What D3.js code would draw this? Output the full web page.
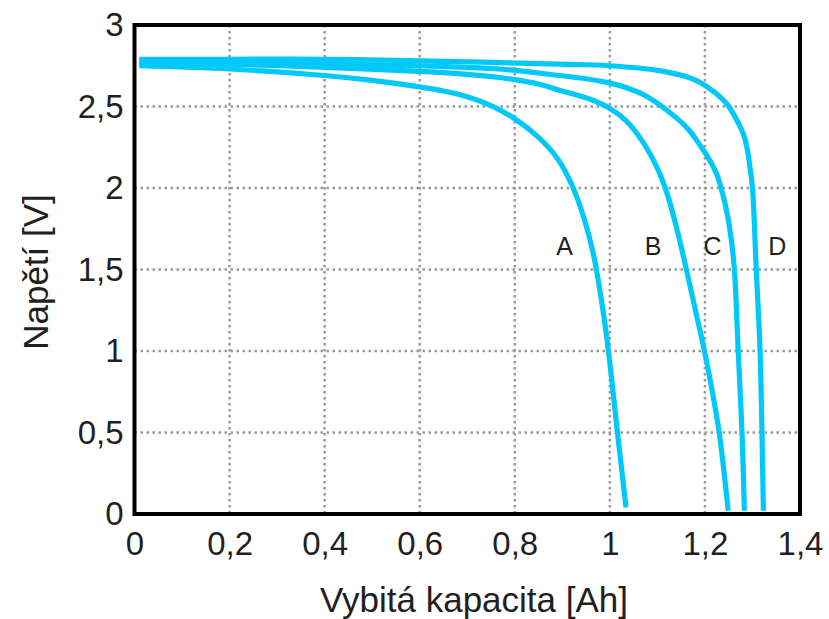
<!DOCTYPE html>
<html>
<head>
<meta charset="utf-8">
<script src="https://cdn.jsdelivr.net/npm/d3@7/dist/d3.min.js"></script>
<style>
  html, body { margin: 0; padding: 0; background: #fff; }
  svg { display: block; }
  text { font-family: "Liberation Sans", Arial, sans-serif; fill: #231f20; }
</style>
</head>
<body>
<svg id="chart" width="829" height="619"></svg>
<script>
// ---- data ----
const xTicks = [0, 0.2, 0.4, 0.6, 0.8, 1, 1.2, 1.4];
const yTicks = [0, 0.5, 1, 1.5, 2, 2.5, 3];
const seriesNames = ["A", "B", "C", "D"];

const curveA_x = [0.01, 0.2, 0.4, 0.5, 0.6, 0.65, 0.7, 0.75, 0.8, 0.85, 0.89, 0.92, 0.945, 0.965, 0.985, 0.997, 1.016, 1.034];
const curveA_y = [2.75, 2.73, 2.69, 2.66, 2.62, 2.595, 2.56, 2.505, 2.425, 2.31, 2.18, 2.02, 1.82, 1.60, 1.26, 1.00, 0.50, 0.04];

const curveB_x = [0.01, 0.2, 0.4, 0.6, 0.7, 0.768, 0.85, 0.894, 0.963, 0.999, 1.035, 1.07, 1.10, 1.12, 1.14, 1.161, 1.18, 1.199, 1.215, 1.230, 1.249];
const curveB_y = [2.77, 2.76, 2.74, 2.715, 2.697, 2.678, 2.638, 2.60, 2.54, 2.49, 2.41, 2.28, 2.12, 1.97, 1.76, 1.50, 1.25, 1.00, 0.76, 0.50, 0.02];

const curveC_x = [0.01, 0.2, 0.4, 0.6, 0.768, 0.894, 0.95, 0.999, 1.035, 1.069, 1.105, 1.14, 1.165, 1.188, 1.208, 1.224, 1.234, 1.247, 1.256, 1.262, 1.270, 1.278, 1.283];
const curveC_y = [2.78, 2.77, 2.76, 2.75, 2.73, 2.69, 2.67, 2.645, 2.615, 2.575, 2.51, 2.43, 2.36, 2.27, 2.18, 2.09, 2.00, 1.84, 1.67, 1.50, 1.00, 0.50, 0.02];

const curveD_x = [0.01, 0.2, 0.4, 0.6, 0.894, 0.999, 1.104, 1.174, 1.21, 1.245, 1.272, 1.281, 1.289, 1.295, 1.30, 1.308, 1.316, 1.32, 1.323];
const curveD_y = [2.79, 2.79, 2.79, 2.78, 2.76, 2.75, 2.72, 2.67, 2.61, 2.52, 2.39, 2.33, 2.24, 2.12, 2.00, 1.50, 1.00, 0.50, 0.02];

// label anchor positions (data units)
const labelX = [0.905, 1.091, 1.216, 1.352];
const labelY = [1.59, 1.59, 1.59, 1.59];

const xTitle = "Vybitá kapacita [Ah]";
const yTitle = "Napětí [V]";

// ---- layout ----
const svg = d3.select("#chart");
const x = d3.scaleLinear().domain([0, 1.4]).range([134.5, 800]);
const y = d3.scaleLinear().domain([0, 3]).range([514, 25]);
const fmt = d => String(d).replace(".", ",");

// grid
const grid = svg.append("g");
grid.selectAll("line.vx").data(xTicks.slice(1, -1)).join("line")
  .attr("x1", d => x(d)).attr("x2", d => x(d))
  .attr("y1", y(3)).attr("y2", y(0))
  .attr("stroke", "#999").attr("stroke-width", 2.5).attr("stroke-dasharray", "2.5,3.5");
grid.selectAll("line.hy").data(yTicks.slice(1, -1)).join("line")
  .attr("y1", d => y(d)).attr("y2", d => y(d))
  .attr("x1", x(0)).attr("x2", x(1.4))
  .attr("stroke", "#999").attr("stroke-width", 2.5).attr("stroke-dasharray", "2.5,3.5");

// axes (labels only)
const xAxis = d3.axisBottom(x).tickValues(xTicks).tickFormat(fmt).tickSize(0).tickPadding(18);
const gx = svg.append("g").attr("transform", `translate(0,${y(0)})`).call(xAxis);
gx.select(".domain").remove();
gx.selectAll("text").attr("font-size", 33).attr("font-family", "Liberation Sans, Arial, sans-serif").attr("fill", "#231f20");

const yAxis = d3.axisLeft(y).tickValues(yTicks).tickFormat(fmt).tickSize(0).tickPadding(11);
const gy = svg.append("g").attr("transform", `translate(${x(0)},0)`).call(yAxis);
gy.select(".domain").remove();
gy.selectAll("text").attr("font-size", 33).attr("font-family", "Liberation Sans, Arial, sans-serif").attr("fill", "#231f20");

// curves
const series = [
  curveA_x.map((d, i) => [d, curveA_y[i]]),
  curveB_x.map((d, i) => [d, curveB_y[i]]),
  curveC_x.map((d, i) => [d, curveC_y[i]]),
  curveD_x.map((d, i) => [d, curveD_y[i]])
];
const line = d3.line().x(d => x(d[0])).y(d => y(d[1])).curve(d3.curveCatmullRom.alpha(0.5));
svg.append("g").selectAll("path").data(series).join("path")
  .attr("d", line)
  .attr("fill", "none")
  .attr("stroke", "#00c8f8")
  .attr("stroke-width", 5.2)
  .attr("stroke-linejoin", "round");

// frame
svg.append("rect")
  .attr("x", x(0)).attr("y", y(3))
  .attr("width", x(1.4) - x(0)).attr("height", y(0) - y(3))
  .attr("fill", "none").attr("stroke", "#000").attr("stroke-width", 4);

// series labels
svg.append("g").selectAll("text").data(seriesNames).join("text")
  .attr("x", (d, i) => x(labelX[i]))
  .attr("y", (d, i) => y(labelY[i]))
  .attr("text-anchor", "middle")
  .attr("font-size", 25)
  .text(d => d);

// titles
svg.append("text")
  .attr("x", 474).attr("y", 612)
  .attr("text-anchor", "middle").attr("font-size", 35)
  .text(xTitle);
svg.append("text")
  .attr("transform", "translate(48,272) rotate(-90)")
  .attr("text-anchor", "middle").attr("font-size", 35)
  .text(yTitle);
</script>
</body>
</html>
